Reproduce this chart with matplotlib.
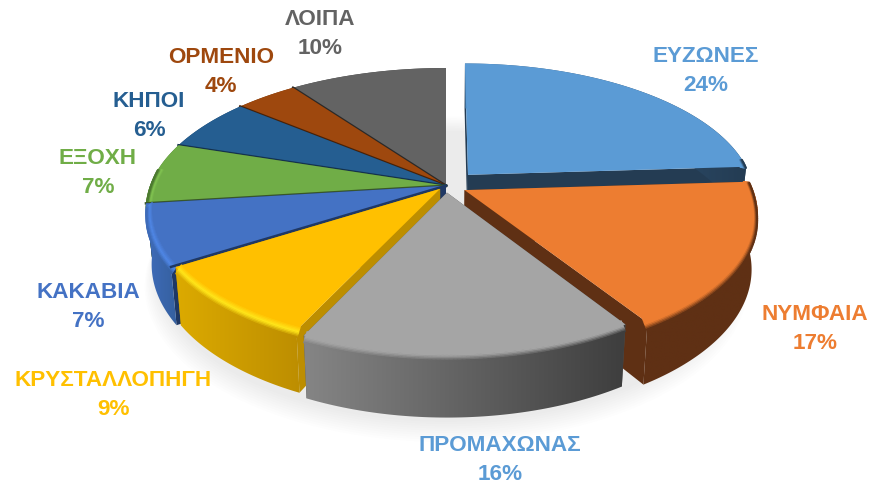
import numpy as np
import matplotlib
matplotlib.use("Agg")
import matplotlib.pyplot as plt
from matplotlib.patches import Polygon
from matplotlib.collections import LineCollection
from matplotlib.colors import to_rgb

names = ["ΕΥΖΩΝΕΣ", "ΝΥΜΦΑΙΑ", "ΠΡΟΜΑΧΩΝΑΣ", "ΚΡΥΣΤΑΛΛΟΠΗΓΗ", "ΚΑΚΑΒΙΑ",
         "ΕΞΟΧΗ", "ΚΗΠΟΙ", "ΟΡΜΕΝΙΟ", "ΛΟΙΠΑ"]
shares = [24, 17, 16, 9, 7, 7, 6, 4, 10]

top_colors = ["#5b9bd5", "#ed7d31", "#a5a5a5", "#ffc000", "#4472c4",
              "#70ad47", "#255e91", "#9e480e", "#636363"]
text_colors = ["#5b9bd5", "#ed7d31", "#5b9bd5", "#ffc000", "#4472c4",
               "#70ad47", "#255e91", "#9e480e", "#636363"]
# rim shading, left and right end
rim_left = ["#3b6a94", "#5f3014", "#858585", "#dcaa00", "#3f6cba",
            "#4c7a30", "#1a4266", "#6e320a", "#444444"]
rim_right = ["#243c53", "#5f3014", "#3e3e3e", "#bd8e00", "#35609f",
             "#4c7a30", "#1a4266", "#6e320a", "#444444"]
face_colors = ["#243c53", "#5f3014", "#555555", "#bd8e00", "#1f3864",
               "#38562a", "#14324e", "#4a2207", "#2a2a2a"]
bevel_colors = ["#5b9bd5", "#ed7d31", "#a5a5a5", "#ffe419", "#4f86e4",
                "#82c452", "#2a6ca5", "#b4541a", "#707070"]

explode = [0.11, 0.07, 0.05, 0.03, 0, 0, 0, 0, 0]
radius = [0.965, 0.97, 0.96, 0.96, 1, 1, 1, 1, 1]
draw_order = [8, 7, 6, 5, 0, 4, 1, 3, 2]

label_pos = [(706, 71), (815, 329), (500, 460), (113, 395), (88, 307),
             (98, 173), (149, 116), (221, 72), (320, 34)]

# perspective fit of the disc
cx, cy = 446, 185.7
rx, ry = 296, 137.7
persp = 0.17
depth = 53
taper = 0.02

bounds = np.radians(np.concatenate([[0], np.cumsum(shares)]) * 3.6)


def project(u, v, drop=0.0):
    s = 1 / (1 + persp * v)
    return cx + rx * u * s * (1 - taper * drop), cy - ry * v * s + drop * depth * s


fig = plt.figure(figsize=(8.76, 4.86), dpi=100)
ax = fig.add_axes([0, 0, 1, 1])

# soft shadow below the pie
for k in range(10):
    th = np.linspace(0, 2 * np.pi, 200)
    x, y = project(np.sin(th) * (0.98 + k * 0.005), np.cos(th) * 1.0 - 0.03, 1.0 + k * 0.035)
    ax.add_patch(Polygon(np.c_[x, y], fc="k", ec="none", alpha=0.009, zorder=1))

z = 2
for i in draw_order:
    t0, t1 = bounds[i], bounds[i + 1]
    mid = (t0 + t1) / 2
    ou, ov = explode[i] * np.sin(mid), explode[i] * np.cos(mid)
    r = radius[i]
    th = np.linspace(t0, t1, 80)
    u = ou + r * np.sin(th)
    v = ov + r * np.cos(th)

    # radial side faces
    for t in (t0, t1):
        eu, ev = ou + r * np.sin(t), ov + r * np.cos(t)
        a = project(ou, ov)
        b = project(eu, ev)
        c = project(eu, ev, 1)
        d = project(ou, ov, 1)
        ax.add_patch(Polygon([a, b, c, d], fc=face_colors[i], ec="none", zorder=z))
    z += 1

    # outer rim with gradient
    xt, yt = project(u, v)
    xb, yb = project(u, v, 1)
    rim = Polygon(np.r_[np.c_[xt, yt], np.c_[xb, yb][::-1]], fc="none", ec="none", zorder=z)
    ax.add_patch(rim)
    c0, c1 = np.array(to_rgb(rim_left[i])), np.array(to_rgb(rim_right[i]))
    grad = np.linspace(0, 1, 128)[None, :, None] * (c1 - c0) + c0
    left, right = min(xt.min(), xb.min()), max(xt.max(), xb.max())
    im = ax.imshow(grad, extent=[left, right, yb.max(), yt.min()],
                   aspect="auto", zorder=z, interpolation="bilinear")
    im.set_clip_path(rim)
    z += 1

    # top face
    xs, ys = project(np.r_[ou, u], np.r_[ov, v])
    ax.add_patch(Polygon(np.c_[xs, ys], fc=top_colors[i], ec="none", zorder=z))
    z += 1

    # bevel along the outer edge, only on the part facing us
    base = np.array(to_rgb(top_colors[i]))
    tone = np.array(to_rgb(bevel_colors[i]))
    front = np.cos(th) < 0.12
    if front.sum() > 1:
        steps = 9
        for k in range(steps):
            f = k / (steps - 1)
            rr = r - 0.02 * (1 - f)
            uk = ou + rr * np.sin(th[front])
            vk = ov + rr * np.cos(th[front])
            # fades out towards the back of the pie
            fade = np.clip(-np.cos(th[front]) * 3 + 0.4, 0, 1)
            xk, yk = project(uk, vk, 0.11 * f * fade)
            pts = np.c_[xk, yk]
            segs = np.stack([pts[:-1], pts[1:]], axis=1)
            w = (np.clip((xk[:-1] - left) / (right - left), 0, 1))[:, None]
            rimc = c0 + (c1 - c0) * w
            col = base + (tone - base) * min(1, f * 2)
            if f > 0.55:
                cols = tone + (rimc - tone) * (f - 0.55) / 0.45
            else:
                cols = np.tile(col, (len(segs), 1))
            ax.add_collection(LineCollection(segs, colors=np.clip(cols, 0, 1), linewidths=1.4,
                                             zorder=z, capstyle="round"))
        z += 1

    # dark seam between the slices that are not pulled out
    if explode[i] == 0:
        sx, sy = project(np.array([0, np.sin(t0)]), np.array([0, np.cos(t0)]))
        ax.plot(sx, sy, color=face_colors[i], lw=1.8, zorder=z)
        z += 1

for i, (px, py) in enumerate(label_pos):
    ax.text(px, py, f"{names[i]}\n{shares[i]}%", color=text_colors[i], ha="center", va="center",
            fontsize=16.2, fontweight="bold", family="Liberation Sans", linespacing=1.56, zorder=z)

ax.set_xlim(0, 876)
ax.set_ylim(486, 0)
ax.axis("off")
fig.savefig("out.png", dpi=100)
